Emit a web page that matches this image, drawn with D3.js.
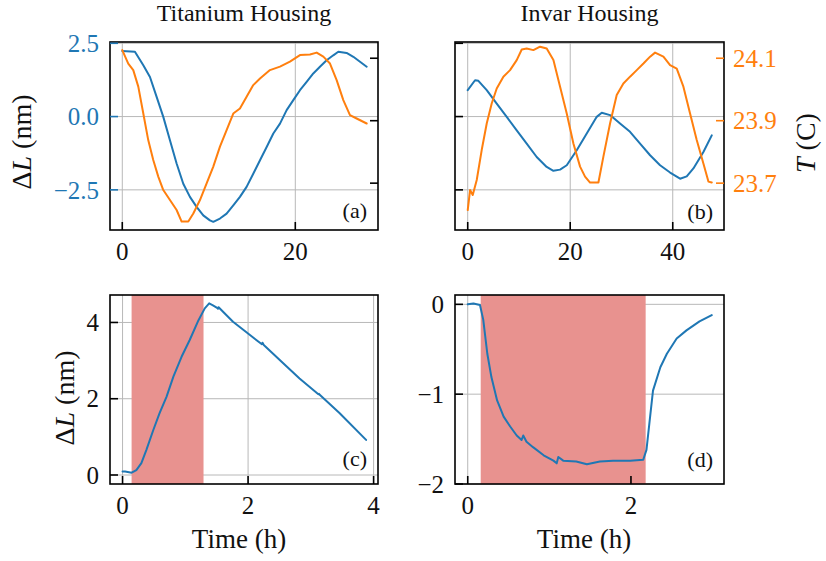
<!DOCTYPE html>
<html>
<head>
<meta charset="utf-8">
<script src="https://cdn.jsdelivr.net/npm/d3@7"></script>
<style>
  html, body { margin: 0; padding: 0; background: #fff; }
  svg { display: block; }
  text { font-family: "Liberation Serif", "Times New Roman", serif; fill: #111; }
</style>
</head>
<body>
<svg id="fig" width="826" height="561"></svg>
<script>
// ---- (a) Titanium housing: length change and room temperature over ~29 h
const tiTime = [0, 1.46, 2.43, 3.2, 3.97, 4.74, 5.51, 6.28, 7.05, 7.82, 8.59, 9.36, 10.13, 10.52, 11.29, 12.06, 12.83, 13.6, 14.37, 15.14, 15.92, 16.69, 17.46, 18.23, 19.0, 19.77, 20.54, 21.31, 22.08, 22.85, 23.62, 24.39, 24.97, 25.93, 26.71, 27.48, 28.25];
const tiLength = [2.24, 2.21, 1.75, 1.35, 0.67, -0.01, -0.81, -1.6, -2.29, -2.74, -3.08, -3.37, -3.54, -3.59, -3.48, -3.31, -3.03, -2.74, -2.4, -1.95, -1.49, -1.04, -0.58, -0.24, 0.22, 0.56, 0.9, 1.18, 1.47, 1.7, 1.92, 2.09, 2.21, 2.17, 2.04, 1.87, 1.7];
const tiTempTime = [0, 0.69, 1.27, 1.85, 2.43, 3.0, 3.58, 4.16, 4.74, 5.51, 6.28, 6.86, 7.63, 8.21, 8.98, 9.75, 10.52, 11.29, 12.06, 12.83, 13.6, 14.37, 15.14, 15.92, 17.07, 18.23, 19.38, 20.54, 21.7, 22.47, 23.24, 24.01, 24.78, 25.55, 26.32, 27.09, 28.25];
const tiTemp = [24.126, 24.083, 24.062, 24.009, 23.923, 23.838, 23.774, 23.721, 23.678, 23.646, 23.614, 23.577, 23.577, 23.603, 23.646, 23.699, 23.753, 23.817, 23.87, 23.923, 23.939, 23.977, 24.014, 24.035, 24.062, 24.073, 24.089, 24.11, 24.112, 24.118, 24.105, 24.083, 24.03, 23.966, 23.918, 23.907, 23.891];

// ---- (b) Invar housing: length change and room temperature over ~48 h
const invTime = [0, 1.43, 2.08, 3.71, 5.66, 7.61, 9.56, 11.51, 13.46, 15.41, 16.72, 18.02, 19.32, 21.27, 23.22, 25.17, 26.15, 27.77, 29.72, 31.67, 33.63, 35.58, 37.53, 39.48, 41.43, 42.73, 44.03, 45.98, 47.61];
const invLength = [0.9, 1.24, 1.22, 0.9, 0.44, -0.01, -0.47, -0.92, -1.38, -1.72, -1.85, -1.81, -1.66, -1.15, -0.58, -0.01, 0.13, 0.05, -0.24, -0.52, -0.92, -1.32, -1.66, -1.91, -2.12, -2.04, -1.77, -1.21, -0.64];
const invTempTime = [0, 0.46, 0.98, 1.76, 2.73, 3.71, 4.68, 5.66, 6.96, 8.26, 9.56, 10.54, 11.51, 12.81, 14.11, 15.41, 16.72, 18.02, 19.32, 20.62, 21.92, 22.89, 23.87, 25.5, 26.47, 27.77, 29.07, 30.37, 31.67, 32.98, 34.28, 35.58, 36.55, 38.18, 39.48, 40.78, 42.08, 43.38, 44.68, 45.98, 46.96, 47.61];
const invTemp = [23.614, 23.678, 23.662, 23.71, 23.806, 23.891, 23.955, 24.003, 24.041, 24.062, 24.094, 24.128, 24.131, 24.126, 24.137, 24.131, 24.094, 24.009, 23.923, 23.827, 23.753, 23.721, 23.702, 23.702, 23.785, 23.891, 23.982, 24.019, 24.041, 24.062, 24.083, 24.105, 24.118, 24.105, 24.078, 24.067, 24.009, 23.923, 23.838, 23.763, 23.705, 23.702];

// ---- (c) Titanium housing heating step response
const tiStepTime = [0, 0.04, 0.145, 0.22, 0.3, 0.38, 0.49, 0.59, 0.7, 0.81, 0.94, 1.07, 1.21, 1.31, 1.38, 1.44, 1.5, 1.52, 1.53, 1.76, 2.03, 2.22, 2.23, 2.25, 2.56, 2.82, 3.12, 3.13, 3.15, 3.46, 3.88];
const tiStepLength = [0.09, 0.09, 0.06, 0.13, 0.31, 0.66, 1.18, 1.62, 2.05, 2.58, 3.1, 3.54, 4.06, 4.37, 4.5, 4.45, 4.39, 4.36, 4.4, 4.02, 3.67, 3.43, 3.47, 3.41, 2.93, 2.53, 2.12, 2.13, 2.09, 1.62, 0.92];
const tiHeat = [0.144, 1.29];

// ---- (d) Invar housing heating step response
const invStepTime = [0, 0.07, 0.15, 0.19, 0.24, 0.29, 0.36, 0.44, 0.52, 0.6, 0.66, 0.68, 0.72, 0.8, 0.93, 1.05, 1.09, 1.11, 1.17, 1.33, 1.46, 1.62, 1.78, 1.99, 2.15, 2.19, 2.23, 2.27, 2.36, 2.44, 2.56, 2.68, 2.84, 2.99];
const invStepLength = [0, 0.01, -0.007, -0.17, -0.55, -0.81, -1.07, -1.25, -1.36, -1.46, -1.51, -1.46, -1.53, -1.59, -1.68, -1.74, -1.77, -1.7, -1.74, -1.75, -1.78, -1.75, -1.74, -1.74, -1.73, -1.62, -1.29, -0.96, -0.7, -0.55, -0.38, -0.29, -0.19, -0.12];
const invHeat = [0.159, 2.18];

// ---- tick values / labels
const tiTimeTicks = [0, 20];
const invTimeTicks = [0, 20, 40];
const lengthTicks = [2.5, 0, -2.5];
const tempTicks = [24.1, 23.9, 23.7];
const tiStepTimeTicks = [0, 2, 4];
const tiStepLengthTicks = [0, 2, 4];
const invStepTimeTicks = [0, 2];
const invStepLengthTicks = [0, -1, -2];

const BLUE = "#1f77b4", ORANGE = "#ff7f0e", SPAN = "#e8928f", GRID = "#b8b8b8";
const svg = d3.select("#fig");
const minus = s => s.replace("-", "\u2212");
const TICK = 8;

function zip(xs, ys) { return xs.map((x, i) => [x, ys[i]]); }

// axes boxes
const boxA = {l: 110, r: 378, t: 42, b: 230};
const boxB = {l: 455, r: 724, t: 42, b: 230};
const boxC = {l: 110, r: 378, t: 295, b: 484};
const boxD = {l: 455, r: 724, t: 295, b: 484};

// shared scales
const yLen = d3.scaleLinear().domain([-3.87, 2.544]).range([boxA.b, boxA.t]);
const yTemp = d3.scaleLinear().domain([23.55, 24.152]).range([boxA.b, boxA.t]);

function drawPanel(box, x, y, xTicks, yTicks, opts) {
  const g = svg.append("g");
  // grid
  g.append("g").selectAll("line.vx").data(xTicks).join("line")
    .attr("x1", d => x(d)).attr("x2", d => x(d)).attr("y1", box.t).attr("y2", box.b)
    .attr("stroke", GRID).attr("stroke-width", 1);
  g.append("g").selectAll("line.hy").data(yTicks).join("line")
    .attr("x1", box.l).attr("x2", box.r).attr("y1", d => y(d)).attr("y2", d => y(d))
    .attr("stroke", GRID).attr("stroke-width", 1);
  // heating interval
  if (opts.span) {
    g.append("rect").attr("x", x(opts.span[0])).attr("y", box.t)
      .attr("width", x(opts.span[1]) - x(opts.span[0])).attr("height", box.b - box.t)
      .attr("fill", SPAN);
  }
  // data lines
  const clipId = "clip" + Math.round(box.l) + "_" + Math.round(box.t);
  svg.append("clipPath").attr("id", clipId).append("rect")
    .attr("x", box.l).attr("y", box.t).attr("width", box.r - box.l).attr("height", box.b - box.t);
  const lines = g.append("g").attr("clip-path", `url(#${clipId})`);
  opts.series.forEach(s => {
    lines.append("path").datum(s.data)
      .attr("d", d3.line().x(d => x(d[0])).y(d => s.y(d[1])))
      .attr("fill", "none").attr("stroke", s.color).attr("stroke-width", 2)
      .attr("stroke-linejoin", "round").attr("stroke-linecap", "round");
  });
  // frame
  g.append("rect").attr("x", box.l).attr("y", box.t).attr("width", box.r - box.l)
    .attr("height", box.b - box.t).attr("fill", "none").attr("stroke", "#000").attr("stroke-width", 1.6);
  // bottom ticks
  g.append("g").selectAll("line").data(xTicks).join("line")
    .attr("x1", d => x(d)).attr("x2", d => x(d)).attr("y1", box.b).attr("y2", box.b - TICK)
    .attr("stroke", "#000").attr("stroke-width", 1.6);
  g.append("g").selectAll("text").data(xTicks).join("text")
    .attr("x", d => x(d)).attr("y", box.b + 29.5).attr("text-anchor", "middle")
    .attr("font-size", 25).text(d => minus(String(d)));
  // left ticks
  g.append("g").selectAll("line").data(yTicks).join("line")
    .attr("x1", box.l).attr("x2", box.l + TICK).attr("y1", d => y(d)).attr("y2", d => y(d))
    .attr("stroke", opts.leftColor || "#000").attr("stroke-width", 1.6);
  if (opts.leftLabels) {
    g.append("g").selectAll("text").data(yTicks).join("text")
      .attr("x", box.l - 11).attr("y", d => y(d)).attr("dy", "0.35em").attr("text-anchor", "end")
      .attr("font-size", 25).style("fill", opts.leftColor || "#111")
      .text(d => minus(opts.leftFormat ? opts.leftFormat(d) : String(d)));
  }
  // right (temperature) ticks
  if (opts.rightTicks) {
    g.append("g").selectAll("line").data(opts.rightTicks).join("line")
      .attr("x1", box.r).attr("x2", box.r - TICK)
      .attr("y1", d => yTemp(d)).attr("y2", d => yTemp(d))
      .attr("stroke", opts.rightColor).attr("stroke-width", 1.6);
    if (opts.rightLabels) {
      g.append("g").selectAll("text").data(opts.rightTicks).join("text")
        .attr("x", box.r + 9).attr("y", d => yTemp(d)).attr("dy", "0.35em")
        .attr("font-size", 25).style("fill", opts.rightColor).text(d => d.toFixed(1));
    }
  }
  // panel tag
  g.append("text").attr("x", box.r - 11).attr("y", opts.tagY).attr("text-anchor", "end")
    .attr("font-size", 22).text(opts.tag);
}

// (a)
const xA = d3.scaleLinear().domain([-1.42, 29.56]).range([boxA.l, boxA.r]);
drawPanel(boxA, xA, yLen, tiTimeTicks, lengthTicks, {
  series: [
    {data: zip(tiTime, tiLength), y: yLen, color: BLUE},
    {data: zip(tiTempTime, tiTemp), y: yTemp, color: ORANGE}
  ],
  leftColor: BLUE, leftLabels: true, leftFormat: d => d.toFixed(1),
  rightTicks: tempTicks, rightColor: "#000", rightLabels: false,
  tag: "(a)", tagY: 218
});

// (b)
const xB = d3.scaleLinear().domain([-2.48, 50.0]).range([boxB.l, boxB.r]);
drawPanel(boxB, xB, yLen, invTimeTicks, lengthTicks, {
  series: [
    {data: zip(invTime, invLength), y: yLen, color: BLUE},
    {data: zip(invTempTime, invTemp), y: yTemp, color: ORANGE}
  ],
  leftColor: "#000", leftLabels: false,
  rightTicks: tempTicks, rightColor: ORANGE, rightLabels: true,
  tag: "(b)", tagY: 219
});

// (c)
const xC = d3.scaleLinear().domain([-0.2, 4.07]).range([boxC.l, boxC.r]);
const yC = d3.scaleLinear().domain([-0.236, 4.72]).range([boxC.b, boxC.t]);
drawPanel(boxC, xC, yC, tiStepTimeTicks, tiStepLengthTicks, {
  span: tiHeat,
  series: [{data: zip(tiStepTime, tiStepLength), y: yC, color: BLUE}],
  leftLabels: true,
  tag: "(c)", tagY: 466
});

// (d)
const xD = d3.scaleLinear().domain([-0.156, 3.14]).range([boxD.l, boxD.r]);
const yD = d3.scaleLinear().domain([-2.0, 0.104]).range([boxD.b, boxD.t]);
drawPanel(boxD, xD, yD, invStepTimeTicks, invStepLengthTicks, {
  span: invHeat,
  series: [{data: zip(invStepTime, invStepLength), y: yD, color: BLUE}],
  leftLabels: true,
  tag: "(d)", tagY: 467
});

// column titles
svg.append("text").attr("x", (boxA.l + boxA.r) / 2).attr("y", 21).attr("text-anchor", "middle")
  .attr("font-size", 24).text("Titanium Housing");
svg.append("text").attr("x", (boxB.l + boxB.r) / 2).attr("y", 21).attr("text-anchor", "middle")
  .attr("font-size", 24).text("Invar Housing");

// axis titles
function deltaL(cx, cy) {
  const t = svg.append("text").attr("transform", `translate(${cx},${cy}) rotate(-90)`)
    .attr("text-anchor", "middle").attr("dy", "0.35em").attr("font-size", 28);
  t.append("tspan").text("\u0394");
  t.append("tspan").attr("font-style", "italic").text("L");
  t.append("tspan").text(" (nm)");
}
deltaL(21, 142);
deltaL(64, 398);

const tLab = svg.append("text").attr("transform", "translate(805,143) rotate(-90)")
  .attr("text-anchor", "middle").attr("dy", "0.35em").attr("font-size", 28);
tLab.append("tspan").attr("font-style", "italic").text("T");
tLab.append("tspan").text(" (C)");

svg.append("text").attr("x", 239).attr("y", 548).attr("text-anchor", "middle")
  .attr("font-size", 27).text("Time (h)");
svg.append("text").attr("x", 584).attr("y", 548).attr("text-anchor", "middle")
  .attr("font-size", 27).text("Time (h)");
</script>
</body>
</html>
